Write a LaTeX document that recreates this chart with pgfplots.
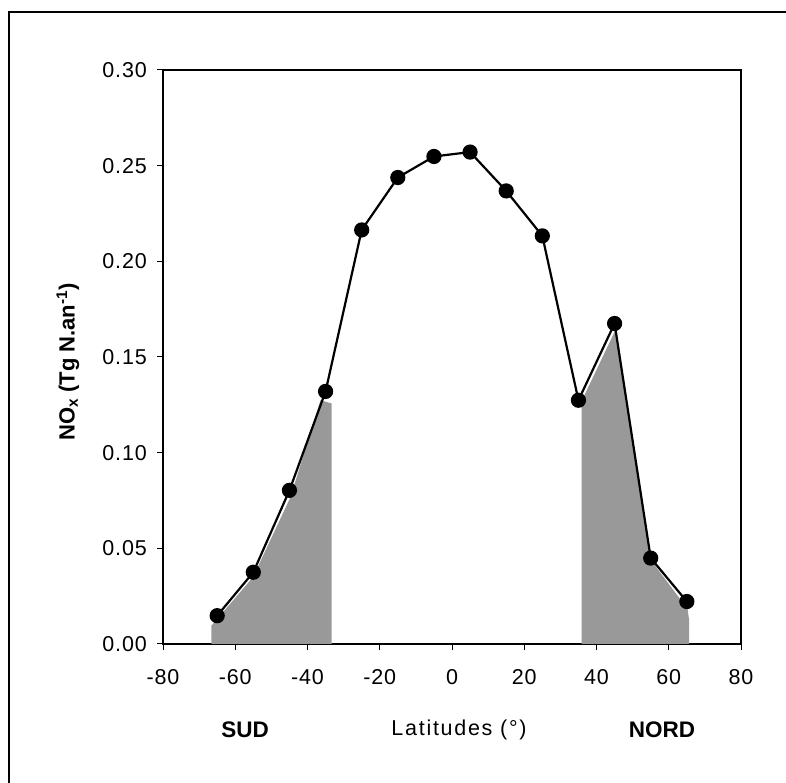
\documentclass[border=0pt]{standalone}
\usepackage{fontspec}
\setmainfont{Liberation Sans}
\newfontfamily\latfont[LetterSpace=8]{Liberation Sans}
\newfontfamily\tickfont[LetterSpace=4]{Liberation Sans}
\usepackage{pgfplots}
\pgfplotsset{compat=1.18}
\begin{document}
\fontsize{21bp}{25bp}\selectfont
\begin{tikzpicture}[x=1bp,y=1bp]
\useasboundingbox (0,0) rectangle (786,783);
\draw[line width=2bp] (9,0) -- (9,771) -- (786,771);
\begin{axis}[
  at={(163bp,139bp)}, anchor=south west,
  scale only axis, width=578bp, height=574bp,
  xmin=-80, xmax=80, ymin=0, ymax=0.30,
  xtick={-80,-60,-40,-20,0,20,40,60,80},
  ytick={0,0.05,0.1,0.15,0.2,0.25,0.3},
  tick align=outside, tick pos=left,
  major tick length=6bp,
  axis line style={line width=2bp},
  every tick/.style={line width=1bp, black},
  every tick label/.append style={font=\fontsize{21.5bp}{25bp}\tickfont},
  /pgf/number format/assume math mode=true,
  y tick label style={/pgf/number format/fixed, /pgf/number format/fixed zerofill, /pgf/number format/precision=2, xshift=-3bp},
  x tick label style={yshift=-12bp},
  clip=false,
]
% shaded areas (south and north)
\addplot[draw=none, fill=black!40] coordinates {
  (-66.6,0) (-66.6,0.0096) (-55.1,0.0349) (-44.7,0.0768) (-36.4,0.1274) (-33.3,0.1257) (-33.3,0)
} -- cycle;
\addplot[draw=none, fill=black!40] coordinates {
  (35.9,0) (35.9,0.1270) (45.2,0.1640) (55.0,0.0440) (65.2,0.0183) (65.6,0.0130) (65.6,0)
} -- cycle;
% main series
\addplot[black, line width=2.2bp, mark=*, mark size=6.5bp, mark options={fill=black, solid}] coordinates {
  (-65,0.0148) (-55,0.0375) (-45,0.0803) (-35,0.1320) (-25,0.2164) (-15,0.2438) (-5,0.2548)
  (5,0.2571) (15,0.2368) (25,0.2133) (35,0.1274) (45,0.1675) (55,0.0449) (65,0.0222)
};
\end{axis}
\node[font=\fontsize{22.5bp}{26bp}\selectfont\bfseries] at (245,53) {SUD};
\node[font=\fontsize{21.5bp}{25bp}\selectfont\latfont] at (459,53) {Latitudes (°)};
\node[font=\fontsize{22.5bp}{26bp}\selectfont\bfseries] at (662,53) {NORD};
\node[rotate=90, font=\fontsize{22bp}{26bp}\selectfont\bfseries] at (68,421) {NO\textsubscript{x} (Tg N.an\textsuperscript{-1})};
\end{tikzpicture}
\end{document}
